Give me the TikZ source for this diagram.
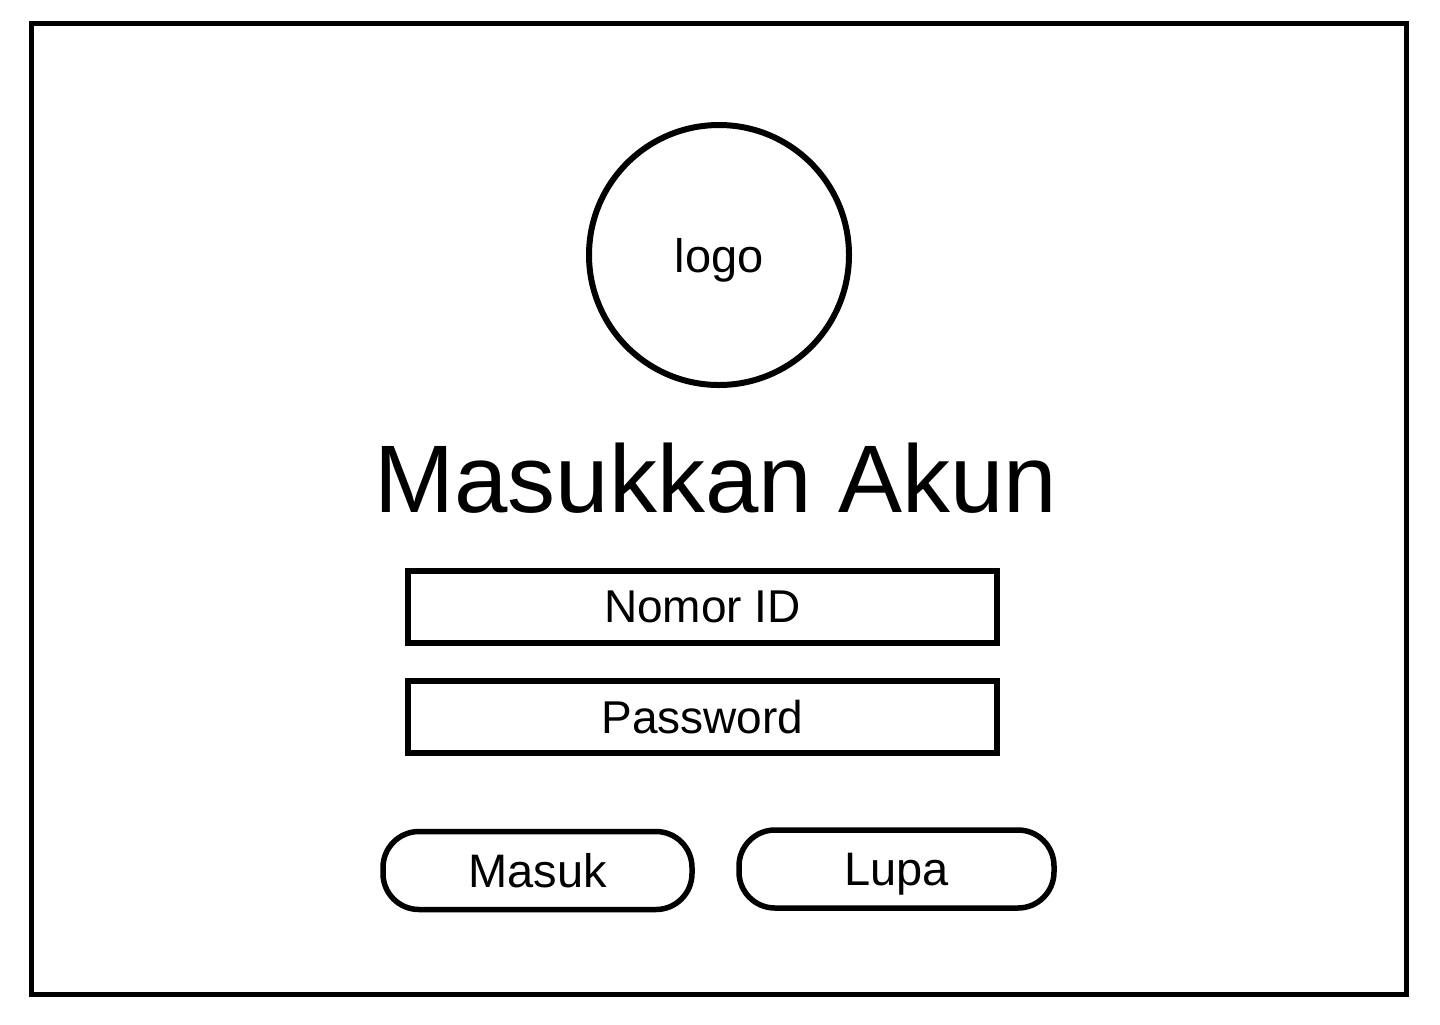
\documentclass[tikz,border=0pt]{standalone}
\usepackage{fontspec}
\setmainfont{Liberation Sans}
\usepackage{tikz}

\begin{document}
\begin{tikzpicture}[x=0.5pt,y=-0.5pt,
  field/.style={draw,line width=3pt,minimum width=294.5pt,minimum height=36pt,inner sep=0pt,text depth=0pt,font=\fontsize{23}{27}\selectfont},
  btn/.style={draw,line width=2.75pt,rounded corners=18pt,minimum height=39pt,inner sep=0pt,text depth=0pt,font=\fontsize{23.5}{27}\selectfont}]
\useasboundingbox (0,0) rectangle (1440,1024);
\draw[line width=2.6pt] (31.5,23.5) rectangle (1406.5,994.5);
\node[draw,circle,line width=3pt,minimum size=130pt,inner sep=0pt,text depth=0pt,font=\fontsize{23.5}{27}\selectfont] (logo) at (719,255) {logo};
\node[font=\fontsize{48}{56}\selectfont,inner sep=0pt,text depth=0pt] (title) at (716,478) {Masukkan Akun};
\node[field] (nomor) at (702.5,607) {Nomor ID};
\node[field] (pass) at (702.5,717) {Password};
\node[btn,minimum width=154.5pt] (masuk) at (537.5,870.5) {Masuk};
\node[btn,minimum width=157.5pt] (lupa) at (896.5,869) {Lupa};
\end{tikzpicture}
\end{document}
